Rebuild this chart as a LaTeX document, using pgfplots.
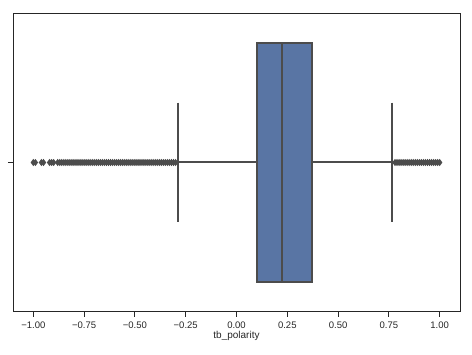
\documentclass[border=0pt]{standalone}
\usepackage{pgfplots}
\pgfplotsset{compat=1.18}
\usepackage{fontspec}
\setmainfont{Liberation Sans}
\definecolor{boxblue}{HTML}{5975A4}
\definecolor{linegray}{HTML}{4C4C4C}
\definecolor{spine}{HTML}{262626}
\begin{document}
\begin{tikzpicture}
\begin{axis}[
  at={(0,0)}, anchor=south west,
  scale only axis, width=447pt, height=299pt,
  xmin=-1.1, xmax=1.1, ymin=-0.5, ymax=0.5, y dir=reverse,
  axis line style={spine, line width=1pt},
  xtick={-1,-0.75,-0.5,-0.25,0,0.25,0.5,0.75,1},
  xticklabels={−1.00,−0.75,−0.50,−0.25,0.00,0.25,0.50,0.75,1.00},
  ytick={0}, yticklabels={},
  tick align=outside, major tick length=5pt,
  tick style={spine, line width=0.9pt},
  xtick pos=bottom, ytick pos=left,
  ticklabel style={font=\fontsize{9.5}{11}\selectfont, text=spine},
  xticklabel style={yshift=-1pt},
  xlabel={tb\_polarity},
  xlabel style={font=\fontsize{10}{12}\selectfont, text=spine, yshift=4pt},
  clip=false,
]
% whiskers
\addplot[draw=linegray, line width=2pt, no marks] coordinates {(-0.29,0) (0.103,0)};
\addplot[draw=linegray, line width=2pt, no marks] coordinates {(0.370,0) (0.767,0)};
\addplot[draw=linegray, line width=2pt, no marks] coordinates {(-0.29,-0.2) (-0.29,0.2)};
\addplot[draw=linegray, line width=2pt, no marks] coordinates {(0.767,-0.2) (0.767,0.2)};
% box
\addplot[draw=linegray, line width=2pt, fill=boxblue, no marks] coordinates {(0.103,-0.4) (0.370,-0.4) (0.370,0.4) (0.103,0.4)} -- cycle;
% median
\addplot[draw=linegray, line width=2pt, no marks] coordinates {(0.226,-0.4) (0.226,0.4)};
% outliers
\addplot[only marks, mark=diamond*, mark size=2.8pt, draw=linegray, fill=linegray, mark options={line width=1pt}] coordinates {
(-1.0,0) (-0.99,0) (-0.96,0) (-0.95,0) (-0.92,0) (-0.91,0) (-0.90,0)
(-0.88,0) (-0.87,0) (-0.86,0) (-0.85,0) (-0.84,0) (-0.83,0) (-0.82,0) (-0.81,0) (-0.80,0)
(-0.79,0) (-0.78,0) (-0.77,0) (-0.76,0) (-0.75,0) (-0.74,0) (-0.73,0) (-0.72,0) (-0.71,0) (-0.70,0)
(-0.69,0) (-0.68,0) (-0.67,0) (-0.66,0) (-0.65,0) (-0.64,0) (-0.63,0) (-0.62,0) (-0.61,0) (-0.60,0)
(-0.59,0) (-0.58,0) (-0.57,0) (-0.56,0) (-0.55,0) (-0.54,0) (-0.53,0) (-0.52,0) (-0.51,0) (-0.50,0)
(-0.49,0) (-0.48,0) (-0.47,0) (-0.46,0) (-0.45,0) (-0.44,0) (-0.43,0) (-0.42,0) (-0.41,0) (-0.40,0)
(-0.39,0) (-0.38,0) (-0.37,0) (-0.36,0) (-0.35,0) (-0.34,0) (-0.33,0) (-0.32,0) (-0.31,0) (-0.30,0)
(0.78,0) (0.79,0) (0.80,0) (0.81,0) (0.82,0) (0.83,0) (0.84,0) (0.85,0) (0.86,0) (0.87,0)
(0.88,0) (0.89,0) (0.90,0) (0.91,0) (0.92,0) (0.93,0) (0.94,0) (0.95,0) (0.96,0) (0.97,0)
(0.98,0) (0.99,0) (1.00,0)
};
\end{axis}
\pgfresetboundingbox
\path[use as bounding box] (-13pt,-43pt) rectangle (459pt,312pt);
\end{tikzpicture}
\end{document}
